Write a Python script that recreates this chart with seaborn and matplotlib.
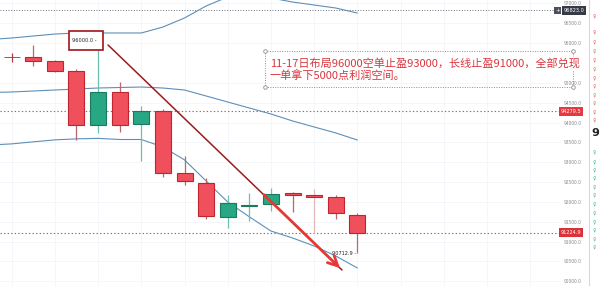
import numpy as np
import pandas as pd
import matplotlib
matplotlib.use("Agg")
import matplotlib.pyplot as plt
import matplotlib.patches as mpatches
from matplotlib.lines import Line2D
import seaborn as sns

# ---------------- data ----------------
candle_idx = list(range(17))
opens  = [95645, 95643, 95557, 95305, 93937, 94761, 93955, 94290, 92720, 92484,
          91627, 91895, 91940, 92217, 92166, 92116, 91663]
highs  = [95743, 95952, 95575, 95348, 96000, 95028, 94416, 94340, 93156, 92610,
          92174, 92217, 92358, 92257, 92317, 92174, 91728]
lows   = [95532, 95423, 95272, 93559, 93743, 93768, 93038, 92635, 92426, 91562,
          91335, 91527, 91778, 91753, 91209, 91569, 90712.9]
closes = [95640, 95557, 95305, 93937, 94761, 93937, 94290, 92720, 92527, 91652,
          91965, 91910, 92199, 92166, 92116, 91713, 91224.9]

band_idx = list(range(-1, 17))
upper  = [96091, 96129, 96179, 96229, 96255, 96255, 96255, 96255, 96405, 96633,
          96935, 97162, 97212, 97137, 97035, 96960, 96884, 96758]
middle = [94756, 94769, 94794, 94819, 94844, 94869, 94882, 94894, 94869, 94819,
          94668, 94517, 94366, 94215, 94039, 93888, 93737, 93560]
lower  = [93433, 93462, 93513, 93563, 93588, 93601, 93572, 93572, 93385, 93058,
          92529, 91998, 91625, 91267, 91092, 90890, 90638, 90336]

y_ticks = [90000, 90500, 91000, 91500, 92000, 92500, 93000, 93500, 94000,
           94500, 95000, 96000, 96500, 97000]
crosshair_price = 96823.0
ref_price = 94279.5
last_price = closes[-1]
entry_price = highs[4]
low_price = lows[-1]

note_line1 = "11-17日布局96000空单止盈93000，长线止盈91000，全部兑现"
note_line2 = "一单拿下5000点利润空间。"

# ---------------- style ----------------
sns.set_style("white")
plt.rcParams['font.family'] = ['Noto Sans CJK SC', 'DejaVu Sans']

W, H = 600, 286
fig = plt.figure(figsize=(W / 100, H / 100), dpi=100)
fig.patch.set_facecolor('white')
ax = fig.add_axes([0, 0, 560 / W, 1])
ax.set_xlim(-0.54, 25.38)
ax.set_ylim(89882, 97086)

# grid
ax.set_yticks(y_ticks)
ax.set_yticklabels([f"{v:.1f}" for v in y_ticks])
ax.set_xticks(list(range(0, 26, 2)))
ax.grid(True, color='#f3f5f8', lw=0.6, zorder=0)
ax.yaxis.tick_right()
ax.tick_params(axis='y', length=0, pad=3, labelsize=3.6, labelcolor='#8a8d93')
ax.tick_params(axis='x', length=0, labelbottom=False)
for s in ax.spines.values():
    s.set_visible(False)

# bollinger bands
bands = pd.DataFrame({'idx': band_idx, 'upper': upper, 'middle': middle, 'lower': lower})
for col in ['upper', 'middle', 'lower']:
    sns.lineplot(data=bands, x='idx', y=col, ax=ax, color='#5e8fb8', lw=0.8, zorder=2)
ax.set_xlabel('')
ax.set_ylabel('')

# horizontal price lines
ax.axhline(crosshair_price, color='#555a66', lw=0.6, ls=(0, (1.2, 2)), zorder=1)
ax.axhline(ref_price, color='#e0474f', lw=0.8, ls=(0, (1.2, 2)), zorder=1)
ax.axhline(last_price, color='#b0585c', lw=0.8, ls=(0, (1.2, 2)), zorder=1)

# candles
up_fill, up_edge, up_wick = '#27a784', '#1a7a5e', '#6fbfae'
dn_fill, dn_edge, dn_wick = '#f0505b', '#c0242e', '#b8676c'
for x, o, h, l, c in zip(candle_idx, opens, highs, lows, closes):
    up = c >= o
    wick = up_wick if up else dn_wick
    if x == 14:
        wick = '#e3b9bb'
    if x == 0:
        wick = '#b03a40'
    ax.vlines(x, l, h, color=wick, lw=0.9, zorder=3)
    ax.bar(x, max(abs(c - o), 8), bottom=min(o, c), width=0.74,
           color=up_fill if up else dn_fill,
           edgecolor=up_edge if up else dn_edge,
           linewidth=0.6 if x == 0 else 0.8, zorder=4)

# entry price box
bx0, bx1 = 2.65, 4.23
ax.add_patch(mpatches.Rectangle((bx0, entry_price - 173), bx1 - bx0, 478,
                                fc='white', ec='#a3141b', lw=1.2, zorder=6))
ax.text(bx0 + 0.14, entry_price + 66, f"{entry_price:.1f} -", fontsize=3.6,
        color='#222', va='center', ha='left', family='DejaVu Sans', zorder=7)

# low price label
ax.text(14.83, low_price, f"{low_price:.1f} -", fontsize=3.6, color='#222',
        va='center', ha='left', family='DejaVu Sans', zorder=7)

# arrow
ax.plot([4.46, 15.29], [95953, 90285], color='#9b1c1c', lw=1.1, zorder=8,
        solid_capstyle='round')
ax.annotate('', xy=(15.29, 90285), xytext=(11.59, 92229),
            arrowprops=dict(arrowstyle='->,head_length=0.7,head_width=0.35',
                            color='#e53935', lw=2.0), zorder=9)

# price labels on the axis
trans = ax.get_yaxis_transform()
ax.text(1.006, crosshair_price, f"{crosshair_price:.1f}", transform=trans,
        fontsize=3.6, color='white', va='center', ha='left', family='DejaVu Sans',
        bbox=dict(boxstyle='square,pad=0.35', fc='#363a45', ec='none'),
        clip_on=False, zorder=10)
ax.text(0.9955, crosshair_price, "+", transform=trans, fontsize=4, color='white',
        va='center', ha='center', family='DejaVu Sans',
        bbox=dict(boxstyle='square,pad=0.15', fc='#4b505c', ec='none'),
        clip_on=False, zorder=10)
for p, col in [(ref_price, '#e8383f'), (last_price, '#dc3139')]:
    ax.text(1.002, p, f"{p:.1f}", transform=trans, fontsize=3.6, color='white',
            va='center', ha='left', family='DejaVu Sans',
            bbox=dict(boxstyle='square,pad=0.35', fc=col, ec='none'),
            clip_on=False, zorder=10)

# annotation text box (figure coordinates)
bl, br, bt, bb = 265, 573, 51, 87
fig.patches.append(mpatches.Rectangle((bl / W, 1 - bb / H), (br - bl) / W, (bb - bt) / H,
                                      transform=fig.transFigure, fc='none',
                                      ec='#8e8e8e', lw=0.7, ls=(0, (1, 1.5)),
                                      zorder=20))
for (hx, hy) in [(bl, bt), (bl, bb), (br, bt), (br, bb)]:
    fig.add_artist(Line2D([hx / W], [1 - hy / H], marker='o', ms=2.6, mfc='white',
                          mec='#8e8e8e', mew=0.6, ls='none', zorder=21))
fig.text(270 / W, 1 - 63.5 / H, note_line1, fontsize=8, color='#d9363e',
         va='center', ha='left', zorder=22,
         bbox=dict(boxstyle='square,pad=0.05', fc='white', ec='none'))
fig.text(270 / W, 1 - 75 / H, note_line2, fontsize=8, color='#d9363e',
         va='center', ha='left', zorder=22)

# right side strip (watchlist fragment)
fig.add_artist(Line2D([589 / W, 589 / W], [0, 1], color='#d5d8de', lw=0.8))
for yy in [17, 33, 43, 52, 61, 70, 79, 87, 96, 104, 113, 121]:
    fig.text(594 / W, 1 - yy / H, "♀", fontsize=3.4, color='#d9484f', alpha=0.8,
             ha='center', va='center', family='DejaVu Sans')
for yy in [153, 163, 171, 179, 188, 196, 205, 214, 223, 231, 240, 248]:
    fig.text(594 / W, 1 - yy / H, "♀", fontsize=3.4, color='#27a784', alpha=0.8,
             ha='center', va='center', family='DejaVu Sans')
fig.text(591 / W, 1 - 133 / H, "9", fontsize=8, color='#222', fontweight='bold',
         ha='left', va='center', family='DejaVu Sans')

fig.savefig("out.png", dpi=100)
